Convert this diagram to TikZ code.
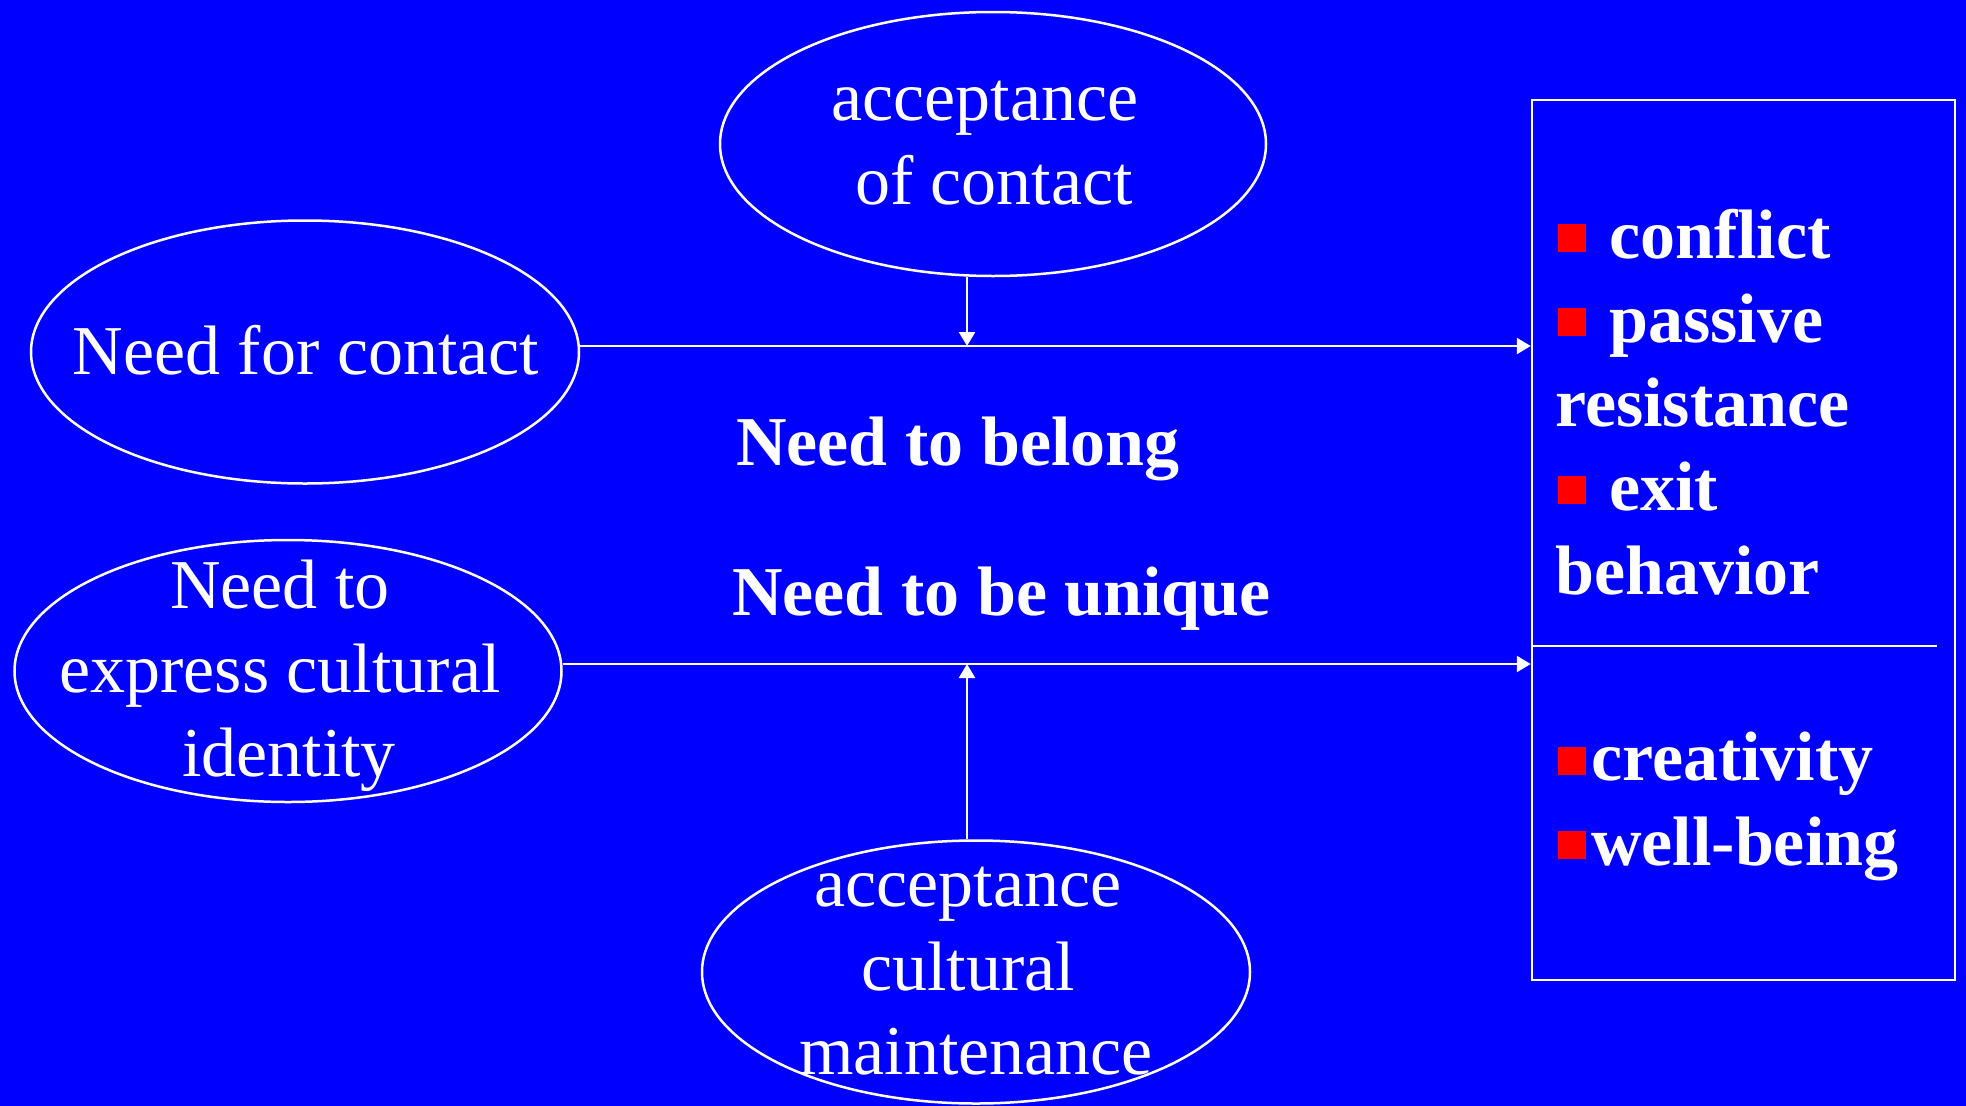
\documentclass[tikz,border=0pt]{standalone}
\usepackage{fontspec}
\setmainfont{Liberation Serif}
\usetikzlibrary{shapes.geometric,arrows.meta}
\definecolor{bgblue}{RGB}{0,0,255}
\definecolor{bulred}{RGB}{255,0,0}
\begin{document}
\begin{tikzpicture}[x=1pt,y=-1pt,
  every node/.style={text=white},
  oval/.style={draw=white,line width=2.5pt,ellipse,inner sep=0pt},
  plain/.style={font=\fontsize{70}{84}\selectfont,inner sep=0pt,anchor=base},
  boldtxt/.style={font=\fontsize{70}{84}\selectfont\bfseries,inner sep=0pt,anchor=base west},
  bullet/.style={fill=bulred,draw=none,minimum size=28pt,inner sep=0pt},
  link/.style={draw=white,line width=2.5pt},
  arr/.style={link,-{Triangle[length=14pt,width=16pt]}}]
\fill[bgblue] (0,0) rectangle (1966,1106);
\useasboundingbox (0,0) rectangle (1966,1106);
% ellipses
\node[oval,minimum width=546pt,minimum height=264pt] (acc1) at (993,144) {};
\node[oval,minimum width=548pt,minimum height=263pt] (nfc) at (305,352) {};
\node[oval,minimum width=547pt,minimum height=262pt] (nie) at (288,671) {};
\node[oval,minimum width=548pt,minimum height=263pt] (acc2) at (976,972) {};
% ellipse texts
\node[plain] (t1a) at (985,120) {acceptance};
\node[plain] (t1b) at (994,204) {of contact};
\node[plain] (t2) at (306,374) {Need for contact};
\node[plain] (t3a) at (280,608) {Need to};
\node[plain] (t3b) at (280,692) {express cultural};
\node[plain] (t3c) at (289,776) {identity};
\node[plain] (t4a) at (968,906) {acceptance};
\node[plain] (t4b) at (968,990) {cultural};
\node[plain] (t4c) at (976,1074) {maintenance};
% centre texts
\node[boldtxt] (nb) at (736,465) {Need to belong};
\node[boldtxt] (nu) at (732,615) {Need to be unique};
% box
\node[draw=white,line width=2.5pt,minimum width=423pt,minimum height=880pt,inner sep=0pt] (box) at (1743.5,540) {};
\coordinate (dv) at (1937,646);
\draw[link] (dv -| box.west) -- (dv);
% box texts
\node[bullet] (b1) at (1571.5,238) {};
\node[boldtxt] (o1) at (1609,258) {conflict};
\node[bullet] (b2) at (1571.5,322) {};
\node[boldtxt] (o2) at (1609,342) {passive};
\node[boldtxt] (o2b) at (1555,426) {resistance};
\node[bullet] (b3) at (1571.5,490) {};
\node[boldtxt] (o3) at (1609,510) {exit};
\node[boldtxt] (o3b) at (1555,594) {behavior};
\node[bullet] (b4) at (1571.5,761) {};
\node[boldtxt] (o4) at (1591,780) {creativity};
\node[bullet] (b5) at (1571.5,845) {};
\node[boldtxt] (o5) at (1591,865) {well-being};
% connectors
\coordinate (j1) at (967,346);
\coordinate (j2) at (967,664);
\draw[arr] (nfc.east |- j1) -- (j1 -| box.west);
\draw[arr] (nie.east |- j2) -- (j2 -| box.west);
\draw[arr] (acc1.south -| j1) -- (j1);
\draw[arr] (acc2.north -| j2) -- (j2);
\end{tikzpicture}
\end{document}
